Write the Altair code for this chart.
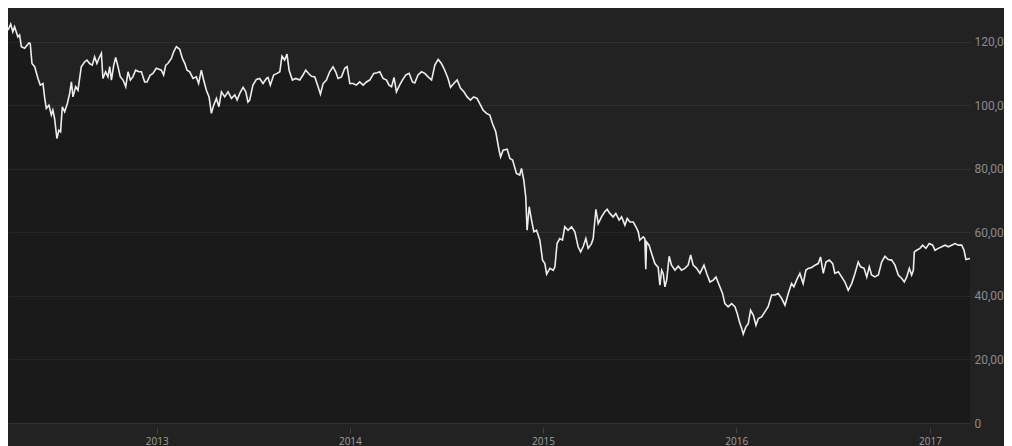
import altair as alt
import numpy as np
import pandas as pd

# Brent-like price series (decimal year, price)
years = [
    2012.231, 2012.245, 2012.256, 2012.265, 2012.282, 2012.291, 2012.300, 2012.317, 2012.339, 2012.346,
    2012.355, 2012.369, 2012.386, 2012.398, 2012.412, 2012.420, 2012.429, 2012.443, 2012.455, 2012.463,
    2012.472, 2012.484, 2012.494, 2012.503, 2012.512, 2012.524, 2012.538, 2012.550, 2012.559, 2012.567,
    2012.581, 2012.593, 2012.610, 2012.627, 2012.639, 2012.653, 2012.667, 2012.679, 2012.691, 2012.701,
    2012.714, 2012.722, 2012.736, 2012.748, 2012.757, 2012.766, 2012.778, 2012.788, 2012.800, 2012.812,
    2012.826, 2012.840, 2012.852, 2012.864, 2012.877, 2012.891, 2012.908, 2012.921, 2012.938, 2012.950,
    2012.967, 2012.981, 2012.998, 2013.012, 2013.024, 2013.036, 2013.047, 2013.058, 2013.076, 2013.088,
    2013.102, 2013.119, 2013.133, 2013.146, 2013.157, 2013.171, 2013.188, 2013.205, 2013.217, 2013.231,
    2013.243, 2013.257, 2013.271, 2013.283, 2013.295, 2013.309, 2013.322, 2013.335, 2013.352, 2013.369,
    2013.387, 2013.404, 2013.416, 2013.430, 2013.447, 2013.461, 2013.472, 2013.481, 2013.498, 2013.516,
    2013.533, 2013.550, 2013.568, 2013.576, 2013.588, 2013.605, 2013.623, 2013.637, 2013.648, 2013.662,
    2013.674, 2013.685, 2013.702, 2013.719, 2013.740, 2013.757, 2013.771, 2013.788, 2013.801, 2013.818,
    2013.835, 2013.847, 2013.861, 2013.878, 2013.895, 2013.912, 2013.926, 2013.938, 2013.956, 2013.973,
    2013.985, 2013.999, 2014.016, 2014.033, 2014.050, 2014.068, 2014.085, 2014.102, 2014.123, 2014.140,
    2014.154, 2014.171, 2014.189, 2014.202, 2014.215, 2014.228, 2014.240, 2014.254, 2014.271, 2014.289,
    2014.306, 2014.323, 2014.335, 2014.352, 2014.370, 2014.387, 2014.404, 2014.422, 2014.439, 2014.456,
    2014.473, 2014.490, 2014.507, 2014.520, 2014.537, 2014.554, 2014.572, 2014.589, 2014.606, 2014.623,
    2014.640, 2014.657, 2014.671, 2014.689, 2014.706, 2014.723, 2014.737, 2014.754, 2014.771, 2014.779,
    2014.792, 2014.813, 2014.827, 2014.841, 2014.861, 2014.878, 2014.887, 2014.899, 2014.909, 2014.916,
    2014.927, 2014.939, 2014.951, 2014.965, 2014.982, 2014.996, 2015.008, 2015.017, 2015.034, 2015.051,
    2015.060, 2015.071, 2015.085, 2015.099, 2015.111, 2015.128, 2015.146, 2015.163, 2015.180, 2015.193,
    2015.206, 2015.220, 2015.232, 2015.249, 2015.258, 2015.272, 2015.284, 2015.301, 2015.318, 2015.330,
    2015.344, 2015.361, 2015.375, 2015.392, 2015.405, 2015.422, 2015.434, 2015.448, 2015.465, 2015.479,
    2015.491, 2015.499, 2015.517, 2015.525, 2015.530, 2015.534, 2015.547, 2015.560, 2015.577, 2015.594,
    2015.603, 2015.612, 2015.620, 2015.629, 2015.638, 2015.651, 2015.663, 2015.681, 2015.698, 2015.715,
    2015.732, 2015.749, 2015.762, 2015.775, 2015.793, 2015.810, 2015.831, 2015.845, 2015.862, 2015.879,
    2015.893, 2015.910, 2015.927, 2015.939, 2015.956, 2015.974, 2015.991, 2016.003, 2016.017, 2016.026,
    2016.034, 2016.048, 2016.060, 2016.072, 2016.086, 2016.100, 2016.112, 2016.129, 2016.146, 2016.163,
    2016.181, 2016.198, 2016.215, 2016.233, 2016.250, 2016.267, 2016.284, 2016.296, 2016.310, 2016.327,
    2016.344, 2016.358, 2016.370, 2016.388, 2016.405, 2016.422, 2016.434, 2016.448, 2016.462, 2016.479,
    2016.497, 2016.508, 2016.526, 2016.543, 2016.560, 2016.577, 2016.595, 2016.612, 2016.629, 2016.641,
    2016.659, 2016.673, 2016.686, 2016.698, 2016.715, 2016.733, 2016.750, 2016.767, 2016.784, 2016.802,
    2016.819, 2016.836, 2016.854, 2016.867, 2016.880, 2016.893, 2016.905, 2016.914, 2016.919, 2016.931,
    2016.948, 2016.962, 2016.979, 2016.996, 2017.014, 2017.026, 2017.043, 2017.061, 2017.078, 2017.095,
    2017.112, 2017.129, 2017.147, 2017.164, 2017.176, 2017.186, 2017.207,
]

prices = [
    123.7, 125.6, 123.2, 124.8, 121.6, 122.2, 118.5, 118.0, 119.7, 119.5,
    113.2, 112.2, 108.5, 106.4, 106.9, 102.7, 99.1, 100.1, 97.0, 98.5,
    95.9, 89.6, 92.2, 91.7, 99.6, 98.0, 100.6, 103.8, 107.4, 102.7,
    105.9, 104.8, 112.2, 113.7, 114.3, 113.2, 112.7, 115.3, 113.2, 114.8,
    116.4, 108.5, 110.6, 109.0, 112.2, 108.0, 112.7, 115.1, 112.2, 109.0,
    108.0, 105.9, 110.6, 108.0, 109.0, 111.1, 110.6, 110.6, 107.4, 107.4,
    109.6, 110.1, 111.7, 111.4, 111.1, 109.6, 112.7, 113.2, 114.8, 116.9,
    118.5, 117.7, 114.8, 113.2, 111.1, 110.6, 108.5, 109.0, 106.9, 111.1,
    108.0, 104.8, 102.7, 97.5, 100.1, 102.2, 99.6, 104.3, 102.7, 104.3,
    102.2, 103.3, 101.7, 103.8, 105.7, 104.3, 101.1, 101.7, 106.4, 108.2,
    108.5, 106.9, 108.5, 108.8, 106.4, 109.6, 110.1, 110.6, 115.5, 114.3,
    116.2, 111.1, 108.0, 108.5, 108.0, 109.6, 111.1, 109.9, 109.2, 109.0,
    105.9, 103.6, 106.9, 108.0, 110.6, 112.2, 110.6, 108.5, 109.0, 111.7,
    112.2, 106.9, 106.9, 106.4, 107.4, 106.4, 107.4, 108.0, 110.1, 110.3,
    110.6, 108.5, 108.0, 106.4, 105.9, 108.8, 104.3, 106.1, 108.0, 109.6,
    110.1, 107.4, 107.1, 109.6, 110.6, 110.1, 109.0, 108.0, 112.7, 114.5,
    113.2, 111.1, 108.5, 105.7, 106.9, 108.0, 105.4, 104.3, 102.7, 101.7,
    102.7, 102.2, 100.6, 98.5, 97.5, 97.0, 94.3, 91.7, 85.9, 83.8,
    85.9, 86.2, 83.3, 82.8, 78.6, 78.1, 80.2, 76.5, 71.2, 60.7,
    68.1, 63.9, 60.2, 60.7, 57.6, 51.3, 50.2, 46.9, 48.7, 48.1,
    49.2, 56.5, 58.1, 57.6, 61.8, 60.7, 61.8, 60.2, 55.5, 53.9,
    55.5, 58.1, 55.0, 56.5, 58.1, 67.3, 62.8, 64.9, 66.5, 67.3,
    66.0, 64.9, 66.0, 63.9, 64.9, 62.3, 64.4, 63.3, 63.3, 61.8,
    60.2, 57.6, 58.6, 58.1, 48.4, 57.0, 56.0, 53.4, 50.2, 49.0,
    43.4, 48.1, 47.1, 42.9, 45.0, 52.5, 49.7, 48.1, 49.4, 48.1,
    48.7, 49.7, 52.9, 49.7, 48.7, 47.1, 49.7, 47.1, 44.4, 45.0,
    46.0, 43.4, 40.8, 37.6, 36.6, 37.6, 36.6, 34.5, 31.3, 29.8,
    28.0, 30.3, 31.3, 35.5, 34.0, 30.8, 32.9, 33.4, 35.0, 36.6,
    40.3, 40.3, 40.8, 39.2, 37.1, 40.8, 43.9, 42.9, 45.0, 47.1,
    43.9, 48.1, 48.7, 49.0, 49.7, 50.2, 52.3, 47.1, 50.7, 51.3,
    50.2, 47.1, 47.6, 46.0, 44.4, 41.8, 43.9, 47.1, 50.7, 49.2,
    48.7, 46.0, 49.2, 46.6, 46.0, 46.6, 50.7, 52.5, 51.5, 51.3,
    49.7, 46.6, 45.5, 44.4, 46.0, 48.7, 46.6, 48.1, 53.9, 54.4,
    55.0, 56.0, 55.0, 56.5, 56.0, 54.4, 55.0, 55.5, 56.0, 55.5,
    56.0, 56.5, 56.0, 56.0, 54.4, 51.5, 51.8,
]

y_ticks = [0, 20, 40, 60, 80, 100, 120]

yr = np.array(years)
dates = pd.Timestamp("2013-01-01") + pd.to_timedelta((yr - 2013.0) * 365.25, unit="D")
df = pd.DataFrame({"date": dates, "price": prices})

x_enc = alt.X(
    "date:T",
    scale=alt.Scale(nice=False),
    axis=alt.Axis(
        title=None,
        format="%Y",
        tickCount={"interval": "year", "step": 1},
        grid=False,
        domain=False,
        ticks=True,
        tickSize=5,
        tickColor="#444444",
        offset=5,
        labelPadding=3,
        labelFontSize=10,
        labelColor="#a0a0a0",
        labelFont="Open Sans",
    ),
)
y_enc = alt.Y(
    "price:Q",
    scale=alt.Scale(domain=[0, 128.8], nice=False, zero=True),
    axis=alt.Axis(
        title=None,
        orient="right",
        values=y_ticks,
        labelExpr="datum.value == 0 ? '0' : replace(format(datum.value, '.2f'), '.', ',')",
        grid=True,
        gridColor="#303030",
        gridWidth=1,
        domain=False,
        ticks=False,
        labelPadding=4,
        labelFontSize=12,
        labelColor="#8c8c8c",
        labelFont="Roboto",
        labelBaseline="middle",
    ),
)

area = alt.Chart(df).mark_area(color="#000000", opacity=0.22).encode(x=x_enc, y=y_enc)
line = alt.Chart(df).mark_line(color="#ededed", strokeWidth=1.6).encode(x="date:T", y="price:Q")

chart = (
    alt.layer(area, line)
    .properties(
        width=962,
        height=409,
        background="#222222",
        padding={"left": 0, "top": 6, "right": 34, "bottom": 24},
        autosize=alt.AutoSizeParams(type="none"),
    )
    .configure_view(stroke="transparent")
)

chart.save("out.html", embed_options={"renderer": "svg", "actions": False})
